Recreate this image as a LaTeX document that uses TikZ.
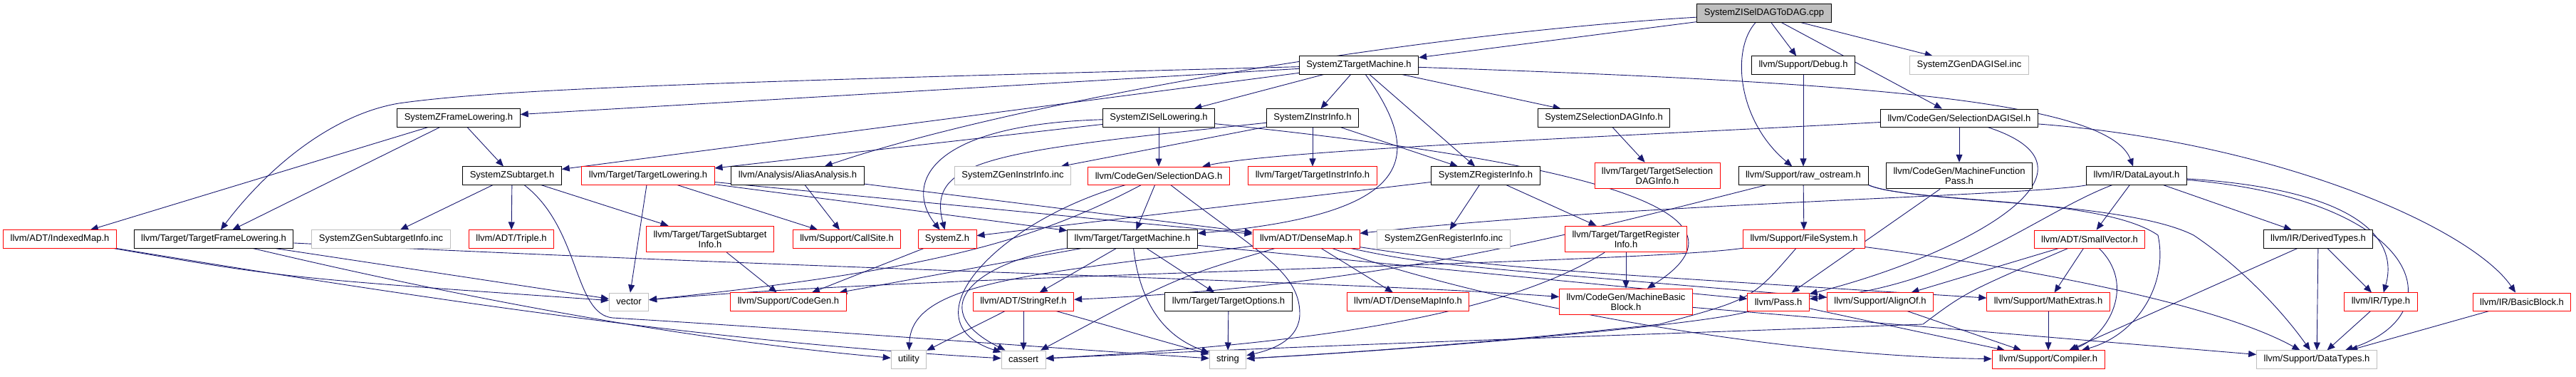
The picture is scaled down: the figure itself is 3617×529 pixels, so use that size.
\documentclass[tikz,border=0pt]{standalone}
\usepackage{fontspec}
\setmainfont{Liberation Sans}
\usepackage{tikz}
\usetikzlibrary{arrows.meta, backgrounds}
\definecolor{edgeblue}{HTML}{191970}
\definecolor{extgray}{HTML}{BFBFBF}
\tikzset{
  hdr/.style={rectangle, draw=black, fill=white, line width=0.9pt, align=center,
              font=\fontsize{13}{14}\selectfont, minimum height=25pt,
              inner xsep=10pt, inner ysep=6.5pt},
  trunc/.style={hdr, draw=red},
  sys/.style={hdr, draw=extgray},
  src/.style={hdr, fill=extgray},
  arr/.style={-{Triangle[length=11pt,width=9pt]}, draw=edgeblue, line width=0.9pt},
}

\begin{document}
\begin{tikzpicture}[x=1pt, y=-1pt]
  \useasboundingbox (0,0) rectangle (3617,529);
  % rows 0-2
  \node[src] (root) at (2477,18.5) {SystemZISelDAGToDAG.cpp};
  \node[hdr] (ztm) at (1908,91.5) {SystemZTargetMachine.h};
  \node[hdr] (dbg) at (2532,91.5) {llvm/Support/Debug.h};
  \node[sys] (gdag) at (2765,91.5) {SystemZGenDAGISel.inc};
  \node[hdr] (zfl) at (644,165.5) {SystemZFrameLowering.h};
  \node[hdr] (zisl) at (1627,165.5) {SystemZISelLowering.h};
  \node[hdr] (zii) at (1843,165.5) {SystemZInstrInfo.h};
  \node[hdr] (zsdi) at (2252,165.5) {SystemZSelectionDAGInfo.h};
  \node[hdr] (sdisel) at (2751,165.5) {llvm/CodeGen/SelectionDAGISel.h};
  % row 3
  \node[hdr] (zst) at (719,246.5) {SystemZSubtarget.h};
  \node[trunc] (tl) at (910,246.5) {llvm/Target/TargetLowering.h};
  \node[hdr] (aa) at (1120,246.5) {llvm/Analysis/AliasAnalysis.h};
  \node[sys] (ginst) at (1422,246.5) {SystemZGenInstrInfo.inc};
  \node[trunc] (sdag) at (1627,246.5) {llvm/CodeGen/SelectionDAG.h};
  \node[trunc] (tii) at (1843,246.5) {llvm/Target/TargetInstrInfo.h};
  \node[hdr] (zri) at (2086,246.5) {SystemZRegisterInfo.h};
  \node[trunc] (tsdi) at (2327,246.5) {llvm/Target/TargetSelection\\DAGInfo.h};
  \node[hdr] (ros) at (2532,246.5) {llvm/Support/raw\_ostream.h};
  \node[hdr] (mfp) at (2751,246.5) {llvm/CodeGen/MachineFunction\\Pass.h};
  \node[hdr] (dl) at (3000,246.5) {llvm/IR/DataLayout.h};
  % row 4
  \node[trunc] (imap) at (84,335.5) {llvm/ADT/IndexedMap.h};
  \node[hdr] (tfl) at (300,335.5) {llvm/Target/TargetFrameLowering.h};
  \node[sys] (gsub) at (535,335.5) {SystemZGenSubtargetInfo.inc};
  \node[trunc] (triple) at (718,335.5) {llvm/ADT/Triple.h};
  \node[trunc] (tsi) at (997,335.5) {llvm/Target/TargetSubtarget\\Info.h};
  \node[trunc] (cs) at (1189,335.5) {llvm/Support/CallSite.h};
  \node[trunc] (zh) at (1330,335.5) {SystemZ.h};
  \node[hdr] (tm) at (1590,335.5) {llvm/Target/TargetMachine.h};
  \node[trunc] (dmap) at (1834,335.5) {llvm/ADT/DenseMap.h};
  \node[sys] (greg) at (2027,335.5) {SystemZGenRegisterInfo.inc};
  \node[trunc] (tri) at (2283,335.5) {llvm/Target/TargetRegister\\Info.h};
  \node[trunc] (fs) at (2533,335.5) {llvm/Support/FileSystem.h};
  \node[trunc] (svec) at (2934,335.5) {llvm/ADT/SmallVector.h};
  \node[hdr] (dtypes) at (3255,335.5) {llvm/IR/DerivedTypes.h};
  % row 5
  \node[sys] (vec) at (883,423.5) {vector};
  \node[trunc] (cg) at (1107,423.5) {llvm/Support/CodeGen.h};
  \node[trunc] (sref) at (1437,423.5) {llvm/ADT/StringRef.h};
  \node[hdr] (topt) at (1725,423.5) {llvm/Target/TargetOptions.h};
  \node[trunc] (dmi) at (1977,423.5) {llvm/ADT/DenseMapInfo.h};
  \node[trunc] (mbb) at (2283,423.5) {llvm/CodeGen/MachineBasic\\Block.h};
  \node[trunc] (pass) at (2497,423.5) {llvm/Pass.h};
  \node[trunc] (algn) at (2640,423.5) {llvm/Support/AlignOf.h};
  \node[trunc] (mext) at (2876,423.5) {llvm/Support/MathExtras.h};
  \node[trunc] (type) at (3343,423.5) {llvm/IR/Type.h};
  \node[trunc] (bb) at (3541,423.5) {llvm/IR/BasicBlock.h};
  % row 6
  \node[sys] (util) at (1276,504.5) {utility};
  \node[sys] (cass) at (1437,504.5) {cassert};
  \node[sys] (str) at (1724,504.5) {string};
  \node[trunc] (comp) at (2876,504.5) {llvm/Support/Compiler.h};
  \node[sys] (dt) at (3253,504.5) {llvm/Support/DataTypes.h};

  \begin{scope}[on background layer]
  % source file
  \draw[arr] (root) -- (ztm);
  \draw[arr] (root) .. controls (1950,50) and (1400,150) .. (aa);
  \draw[arr] (root) -- (sdisel);
  \draw[arr] (root) -- (dbg);
  \draw[arr] (root) .. controls (2430,70) and (2440,170) .. (ros);
  \draw[arr] (root) -- (gdag);
  % SystemZTargetMachine.h
  \draw[arr] (ztm) -- (zfl);
  \draw[arr] (ztm) -- (zisl);
  \draw[arr] (ztm) -- (zii);
  \draw[arr] (ztm) -- (zri);
  \draw[arr] (ztm) -- (zst);
  \draw[arr] (ztm) -- (zsdi);
  \draw[arr] (ztm) .. controls (2600,115) and (2960,140) .. (dl);
  \draw[arr] (ztm) .. controls (1000,115) and (700,125) .. (560,145) .. controls (470,160) and (380,230) .. (tfl);
  \draw[arr] (ztm) .. controls (2000,220) and (1990,300) .. (tm);
  \draw[arr] (dbg) -- (ros);
  % frame lowering, isel lowering, instr info
  \draw[arr] (zfl) -- (zst);
  \draw[arr] (zfl) -- (tfl);
  \draw[arr] (zfl) -- (imap);
  \draw[arr] (zisl) -- (tl);
  \draw[arr] (zisl) .. controls (1300,175) and (1270,260) .. (zh);
  \draw[arr] (zisl) -- (sdag);
  \draw[arr] (zisl) .. controls (2250,230) and (2480,300) .. (mbb);
  \draw[arr] (zii) .. controls (1400,212) and (1300,222) .. (zh);
  \draw[arr] (zii) -- (ginst);
  \draw[arr] (zii) -- (tii);
  \draw[arr] (zii) -- (zri);
  \draw[arr] (zsdi) -- (tsdi);
  % SelectionDAGISel.h
  \draw[arr] (sdisel) .. controls (2300,190) and (1800,210) .. (sdag);
  \draw[arr] (sdisel) -- (mfp);
  \draw[arr] (sdisel) .. controls (3200,200) and (3470,320) .. (bb);
  \draw[arr] (sdisel) .. controls (2980,240) and (2750,360) .. (pass);
  % SystemZSubtarget.h
  \draw[arr] (zst) -- (gsub);
  \draw[arr] (zst) -- (triple);
  \draw[arr] (zst) -- (tsi);
  \draw[arr] (zst) .. controls (815,320) and (805,440) .. (860,446) .. controls (1100,460) and (1500,490) .. (str);
  % TargetLowering.h, AliasAnalysis.h
  \draw[arr] (tl) -- (vec);
  \draw[arr] (tl) -- (cs);
  \draw[arr] (tl) -- (dmap);
  \draw[arr] (tl) -- (tm);
  \draw[arr] (aa) -- (cs);
  \draw[arr] (aa) -- (dmap);
  % SelectionDAG.h
  \draw[arr] (sdag) -- (tm);
  \draw[arr] (sdag) .. controls (1400,310) and (1270,450) .. (cass);
  \draw[arr] (sdag) .. controls (1450,340) and (1300,380) .. (vec);
  \draw[arr] (sdag) .. controls (1760,350) and (1825,380) .. (1825,440) .. controls (1825,475) and (1790,490) .. (str);
  % TargetMachine.h
  \draw[arr] (tm) -- (sref);
  \draw[arr] (tm) -- (pass);
  \draw[arr] (tm) -- (cg);
  \draw[arr] (tm) -- (topt);
  \draw[arr] (tm) .. controls (1380,365) and (1290,430) .. (cass);
  \draw[arr] (tm) .. controls (1600,420) and (1630,470) .. (str);
  % SystemZRegisterInfo.h
  \draw[arr] (zri) -- (zh);
  \draw[arr] (zri) -- (greg);
  \draw[arr] (zri) -- (tri);
  % raw_ostream.h
  \draw[arr] (ros) .. controls (2200,330) and (1950,400) .. (sref);
  \draw[arr] (ros) -- (fs);
  \draw[arr] (ros.south east) .. controls (2680,285) and (2950,275) .. (3030,330) .. controls (3045,400) and (3000,470) .. (comp);
  \draw[arr] (ros.south east) .. controls (2680,285) and (2980,280) .. (3080,330) .. controls (3140,370) and (3200,430) .. (dt);
  \draw[arr] (mfp) -- (pass);
  % DataLayout.h
  \draw[arr] (dl) .. controls (2850,275) and (2300,285) .. (dmap);
  \draw[arr] (dl) -- (svec);
  \draw[arr] (dl) -- (dtypes);
  \draw[arr] (dl) .. controls (3300,265) and (3370,330) .. (type);
  \draw[arr] (dl) .. controls (3400,280) and (3450,440) .. (dt);
  \draw[arr] (dl) .. controls (2860,300) and (2750,400) .. (pass);
  % IndexedMap.h, TargetFrameLowering.h
  \draw[arr] (imap) .. controls (400,390) .. (vec);
  \draw[arr] (imap) .. controls (600,420) and (1000,480) .. (cass);
  \draw[arr] (tfl) .. controls (1200,380) and (1900,395) .. (mbb);
  \draw[arr] (tfl) .. controls (700,430) and (1000,480) .. (util);
  \draw[arr] (tfl) -- (vec);
  \draw[arr] (tsi) -- (cg);
  \draw[arr] (zh) -- (cg);
  % DenseMap.h
  \draw[arr] (dmap) -- (dmi);
  \draw[arr] (dmap) .. controls (2000,370) .. (algn);
  \draw[arr] (dmap) .. controls (2100,375) .. (mext);
  \draw[arr] (dmap) .. controls (2100,430) and (2500,500) .. (comp);
  \draw[arr] (dmap) .. controls (1650,390) .. (cass);
  \draw[arr] (dmap) .. controls (1450,385) and (1280,395) .. (util);
  % TargetRegisterInfo.h, FileSystem.h
  \draw[arr] (tri) -- (mbb);
  \draw[arr] (tri) .. controls (2100,450) and (1800,485) .. (cass);
  \draw[arr] (fs) .. controls (2300,370) and (1300,385) .. (vec);
  \draw[arr] (fs) .. controls (2460,420) .. (2330,455) .. controls (2100,480) and (1900,495) .. (str);
  \draw[arr] (fs) .. controls (2800,370) and (3100,420) .. (dt);
  % SmallVector.h, DerivedTypes.h
  \draw[arr] (svec) -- (algn);
  \draw[arr] (svec) -- (mext);
  \draw[arr] (svec) .. controls (3000,400) and (2960,470) .. (comp);
  \draw[arr] (svec) .. controls (2760,410) .. (2700,455) .. controls (2300,470) and (1900,482) .. (cass);
  \draw[arr] (dtypes) -- (type);
  \draw[arr] (dtypes) -- (dt);
  \draw[arr] (dtypes) -- (comp);
  % bottom rows
  \draw[arr] (sref) -- (util);
  \draw[arr] (sref) -- (cass);
  \draw[arr] (sref) -- (str);
  \draw[arr] (topt) -- (str);
  \draw[arr] (mbb) -- (dt);
  \draw[arr] (pass) .. controls (2400,455) and (2000,490) .. (str);
  \draw[arr] (pass) -- (comp);
  \draw[arr] (algn) -- (comp);
  \draw[arr] (mext) -- (comp);
  \draw[arr] (type) -- (dt);
  \draw[arr] (bb) -- (dt);
  \end{scope}
\end{tikzpicture}
\end{document}
